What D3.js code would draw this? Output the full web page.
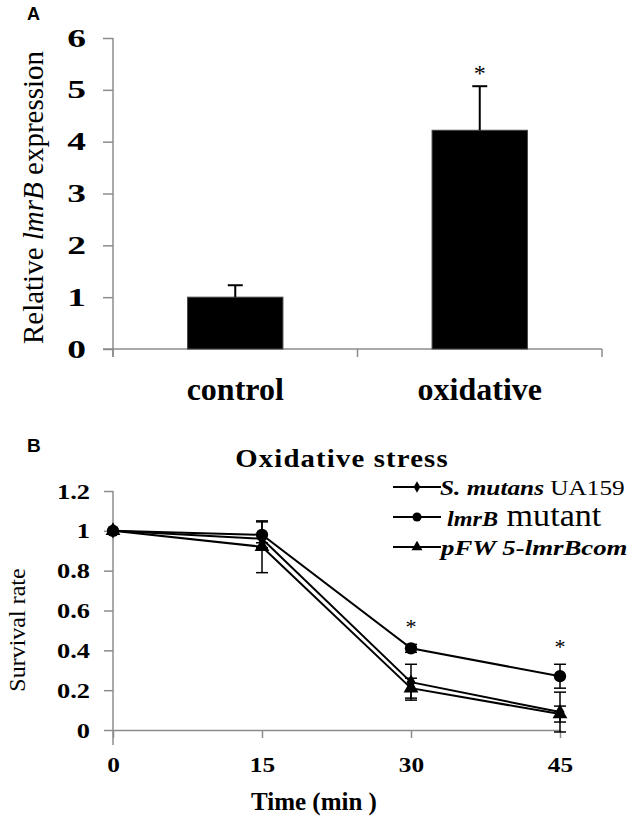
<!DOCTYPE html>
<html>
<head>
<meta charset="utf-8">
<script src="https://cdn.jsdelivr.net/npm/d3@7"></script>
<style>
  body { margin: 0; background: #fff; }
  svg { display: block; }
  text { font-family: "Liberation Serif", "Times New Roman", serif; fill: #000; }
  .axis path, .axis line { stroke: #8c8c8c; stroke-width: 1.5; }
</style>
</head>
<body>
<div id="chart"></div>
<script>
// panel A: relative lmrB expression
const groups = ['control', 'oxidative'];
const expr = [1.0, 4.22];
const exprErr = [0.23, 0.85];
const exprSig = [false, true];
const exprTicks = [0, 1, 2, 3, 4, 5, 6];

// panel B: survival under oxidative stress
const times = [0, 15, 30, 45];
const wt = [1.0, 0.96, 0.24, 0.09];
const wtErr = [0, 0.02, 0.09, 0.10];
const mutant = [1.0, 0.98, 0.41, 0.27];
const mutantErr = [0, 0.065, 0.02, 0.06];
const comp = [1.0, 0.92, 0.21, 0.08];
const compErr = [0, 0.13, 0.05, 0.04];
const survTicks = [0, 0.2, 0.4, 0.6, 0.8, 1, 1.2];
const sigTimes = [30, 45];

const SERIF = '"Liberation Serif", "Times New Roman", serif';
const W = 633, H = 825;
const svg = d3.select('#chart').append('svg')
  .attr('width', W).attr('height', H)
  .style('background', '#fff');

// the scanned figure is stretched sideways, so texts get a horizontal scale
function stretch(sel, k) {
  sel.each(function () {
    const t = d3.select(this);
    const x = +t.attr('x') || 0;
    t.attr('transform', `translate(${x * (1 - k)},0) scale(${k},1)`);
  });
}

function tickText(sel, size, k) {
  sel.selectAll('text')
    .attr('font-family', null).attr('font-size', null)
    .style('font-family', SERIF)
    .style('font-size', size + 'px').style('font-weight', 'bold')
    .call(stretch, k);
}

function panelLabel(txt, x, y, size) {
  svg.append('text')
    .attr('x', x).attr('y', y)
    .style('font-family', '"Liberation Sans", Arial, sans-serif')
    .style('font-weight', 'bold')
    .style('font-size', size + 'px')
    .text(txt);
}

/* ---------- panel A ---------- */
panelLabel('A', 27, 20, 18);

const yA = d3.scaleLinear().domain([0, 6]).range([349, 38]);
const xA = d3.scaleBand().domain(groups).range([113, 602])
  .paddingInner(0.61).paddingOuter(0.305);

const gA = svg.append('g');

// x axis line with ticks at the band boundaries
const x0 = xA.range()[0];
const bounds = d3.range(groups.length + 1).map(i => x0 + i * xA.step());
gA.append('line')
  .attr('x1', 103).attr('x2', 602).attr('y1', yA(0)).attr('y2', yA(0));
gA.selectAll('line.bt').data(bounds).join('line')
  .attr('class', 'bt')
  .attr('x1', d => d).attr('x2', d => d)
  .attr('y1', yA(0)).attr('y2', yA(0) + 8);
gA.selectAll('line').attr('stroke', '#8c8c8c').attr('stroke-width', 1.5);

const yAxisA = gA.append('g').attr('class', 'axis')
  .attr('transform', 'translate(113,0)')
  .call(d3.axisLeft(yA).tickValues(exprTicks).tickSize(10).tickSizeOuter(0)
    .tickPadding(17).tickFormat(d3.format('d')));
yAxisA.select('.domain').attr('d', `M0,${yA(0) + 8}V${yA(6)}`);
tickText(yAxisA, 25, 1.5);

// bars
gA.selectAll('rect.bar').data(groups).join('rect')
  .attr('class', 'bar')
  .attr('x', d => xA(d))
  .attr('width', xA.bandwidth())
  .attr('y', (d, i) => yA(expr[i]))
  .attr('height', (d, i) => yA(0) - yA(expr[i]))
  .attr('fill', '#000')
  .attr('stroke', '#444').attr('stroke-width', 1);

// upper error bars
const capA = 15;
groups.forEach((g, i) => {
  const cx = xA(g) + xA.bandwidth() / 2;
  const top = yA(expr[i] + exprErr[i]);
  gA.append('line').attr('x1', cx).attr('x2', cx)
    .attr('y1', yA(expr[i])).attr('y2', top)
    .attr('stroke', '#000').attr('stroke-width', 2);
  gA.append('line').attr('x1', cx - capA / 2).attr('x2', cx + capA / 2)
    .attr('y1', top).attr('y2', top)
    .attr('stroke', '#000').attr('stroke-width', 2);
  if (exprSig[i]) {
    gA.append('text').attr('x', cx)
      .attr('y', yA(expr[i] + exprErr[i] + 0.31) + 11)
      .attr('text-anchor', 'middle')
      .style('font-size', '24px')
      .text('*');
  }
});

// category labels
gA.selectAll('text.cat').data(groups).join('text')
  .attr('class', 'cat')
  .attr('x', d => xA(d) + xA.bandwidth() / 2)
  .attr('y', 400)
  .attr('text-anchor', 'middle')
  .style('font-size', '32px').style('font-weight', 'bold')
  .text(d => d);

// y title
const tA = gA.append('text')
  .attr('transform', `translate(43,${(yA(0) + yA(6)) / 2 + 4}) rotate(-90)`)
  .attr('text-anchor', 'middle')
  .style('font-size', '29px');
tA.append('tspan').text('Relative ');
tA.append('tspan').style('font-style', 'italic').text('lmrB');
tA.append('tspan').text(' expression');

/* ---------- panel B ---------- */
panelLabel('B', 27, 452, 19);

const xB = d3.scaleLinear().domain([0, 45]).range([113, 560]);
const yB = d3.scaleLinear().domain([0, 1.2]).range([730, 491]);
const gB = svg.append('g');

svg.append('text')
  .attr('x', 342).attr('y', 467)
  .attr('text-anchor', 'middle')
  .style('font-size', '25px').style('font-weight', 'bold')
  .style('letter-spacing', '1px')
  .text('Oxidative  stress')
  .call(stretch, 1.15);

const xAxisB = gB.append('g').attr('class', 'axis')
  .attr('transform', `translate(0,${yB(0)})`)
  .call(d3.axisBottom(xB).tickValues(times).tickSize(8).tickSizeOuter(0)
    .tickPadding(18).tickFormat(d3.format('d')));
tickText(xAxisB, 22, 1.15);

const yAxisB = gB.append('g').attr('class', 'axis')
  .attr('transform', `translate(${xB(0)},0)`)
  .call(d3.axisLeft(yB).tickValues(survTicks).tickSize(9).tickSizeOuter(0)
    .tickPadding(14).tickFormat(d3.format('~g')));
yAxisB.select('.domain').attr('d', `M0,${yB(0) + 15}V${yB(1.2)}`);
tickText(yAxisB, 22, 1.2);

const series = [
  { vals: wt, err: wtErr, sym: d3.symbolDiamond, size: 70 },
  { vals: mutant, err: mutantErr, sym: d3.symbolCircle, size: 120 },
  { vals: comp, err: compErr, sym: d3.symbolTriangle, size: 95 }
];

const line = d3.line().x((d, i) => xB(times[i])).y(d => yB(d));
const capB = 12;

series.forEach(s => {
  // error bars
  s.vals.forEach((v, i) => {
    const e = s.err[i];
    if (!e) return;
    const cx = xB(times[i]);
    gB.append('line').attr('x1', cx).attr('x2', cx)
      .attr('y1', yB(v - e)).attr('y2', yB(v + e))
      .attr('stroke', '#000').attr('stroke-width', 1.5);
    [v - e, v + e].forEach(c => {
      gB.append('line').attr('x1', cx - capB / 2).attr('x2', cx + capB / 2)
        .attr('y1', yB(c)).attr('y2', yB(c))
        .attr('stroke', '#000').attr('stroke-width', 1.5);
    });
  });
  gB.append('path').datum(s.vals)
    .attr('d', line)
    .attr('fill', 'none').attr('stroke', '#000').attr('stroke-width', 2);
  gB.selectAll(null).data(s.vals).join('path')
    .attr('transform', (d, i) => `translate(${xB(times[i])},${yB(d)})`)
    .attr('d', d3.symbol().type(s.sym).size(s.size))
    .attr('fill', '#000');
});

// significance marks above the mutant
sigTimes.forEach(t => {
  const i = times.indexOf(t);
  gB.append('text')
    .attr('x', xB(t))
    .attr('y', yB(mutant[i] + mutantErr[i] + 0.1) + 10)
    .attr('text-anchor', 'middle')
    .style('font-size', '22px')
    .text('*');
});

// axis titles
svg.append('text')
  .attr('transform', 'translate(25,630) rotate(-90)')
  .attr('text-anchor', 'middle')
  .style('font-size', '24px')
  .text('Survival rate');

svg.append('text')
  .attr('x', 314).attr('y', 810)
  .attr('text-anchor', 'middle')
  .style('font-size', '25px').style('font-weight', 'bold')
  .text('Time (min )');

// legend
const legY = [487, 517, 547];
const leg = svg.append('g');
series.forEach((s, i) => {
  leg.append('line').attr('x1', 393).attr('x2', 441)
    .attr('y1', legY[i]).attr('y2', legY[i])
    .attr('stroke', '#000').attr('stroke-width', 2);
  leg.append('path')
    .attr('transform', `translate(417,${legY[i]})`)
    .attr('d', d3.symbol().type(s.sym).size(s.size * 0.55))
    .attr('fill', '#000');
});

const l1 = leg.append('text').attr('x', 440).attr('y', legY[0] + 8)
  .style('font-size', '22px');
l1.append('tspan').style('font-weight', 'bold').style('font-style', 'italic').text('S. mutans');
l1.append('tspan').text(' UA159');
l1.call(stretch, 1.15);

const l2 = leg.append('text').attr('x', 447).attr('y', legY[1] + 9)
  .style('font-size', '22px');
l2.append('tspan').style('font-weight', 'bold').style('font-style', 'italic').text('lmrB');
l2.append('tspan').style('font-size', '31px').text(' mutant');
l2.call(stretch, 1.1);

const l3 = leg.append('text').attr('x', 441).attr('y', legY[2] + 8)
  .style('font-size', '22px')
  .style('font-weight', 'bold').style('font-style', 'italic')
  .text('pFW 5-lmrBcom');
l3.call(stretch, 1.22);
</script>
</body>
</html>
